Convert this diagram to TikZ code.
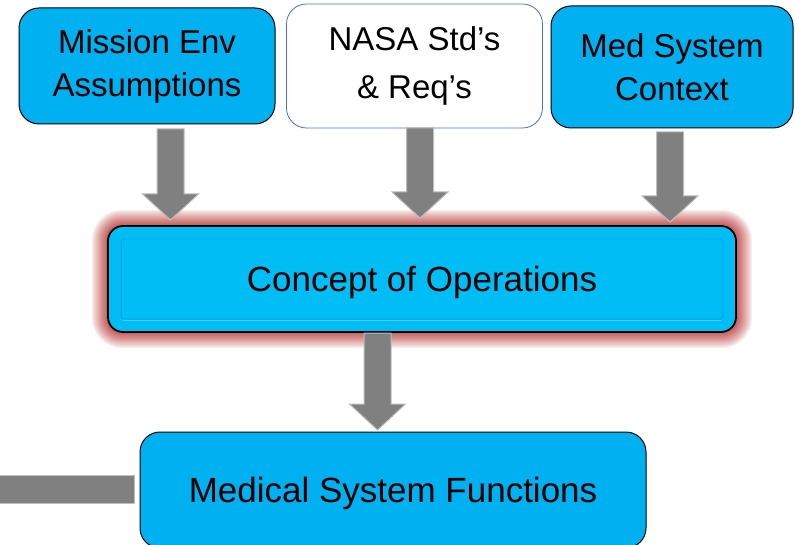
\documentclass[tikz,border=0pt]{standalone}
\usepackage{fontspec}
\setmainfont{Liberation Sans}
\usetikzlibrary{calc,backgrounds}

\definecolor{boxblue}{HTML}{00B0F0}
\definecolor{opsblue}{HTML}{00BEF5}
\definecolor{opsedge}{HTML}{0A9FD6}
\definecolor{nasaline}{HTML}{4472C4}
\definecolor{glowred}{HTML}{C0504D}
\definecolor{arrowgray}{HTML}{808080}
\definecolor{arrowedge}{HTML}{BDBDBD}

\tikzset{
  every node/.style={font=\fontsize{33}{43}\selectfont, align=center, inner sep=0pt},
  bigtext/.style={font=\fontsize{35}{42}\selectfont},
  widelines/.style={font=\fontsize{33}{48}\selectfont},
  bluebox/.style={rectangle, rounded corners=20pt, fill=boxblue, draw=black, line width=1pt},
  whitebox/.style={rectangle, rounded corners=20pt, fill=white, draw=nasaline, line width=0.8pt},
  opsbox/.style={rectangle, rounded corners=15pt, fill=opsblue, draw=black, line width=1.8pt},
  garrow/.style={fill=arrowgray, draw=arrowedge, line width=1pt},
}

% block arrow pointing down from #1 (top of shaft) to #2 (tip)
\newcommand{\blockdown}[2]{%
  \path[garrow] let \p1=#1, \p2=#2 in
    (\x1-13.5pt,\y1) -- (\x1+13.5pt,\y1) -- (\x1+13.5pt,\y2+26pt)
    -- (\x1+28pt,\y2+26pt) -- (\x1,\y2) -- (\x1-28pt,\y2+26pt)
    -- (\x1-13.5pt,\y2+26pt) -- cycle;}

\begin{document}
\begin{tikzpicture}[x=1pt,y=-1pt]
\useasboundingbox (0,0) rectangle (795,545);

% input boxes
\node[bluebox, minimum width=256pt, minimum height=116pt] (mission) at (147,66) {Mission Env\\Assumptions};
\node[whitebox, widelines, minimum width=256pt, minimum height=124pt] (nasa) at (414.5,66) {NASA Std’s\\\& Req’s};
\node[bluebox, minimum width=242pt, minimum height=122pt] (medctx) at (672,67) {Med System\\Context};

% concept of operations box with its red glow
\node[opsbox, bigtext, text height=26pt, text depth=0pt, minimum width=628pt, minimum height=106pt]
  (conops) at (422,279) {Concept of Operations};
\begin{scope}[on background layer]
  \foreach \i in {15,14,...,1}{
    \pgfmathsetmacro\amt{92*(1-\i/16)^0.8}
    \draw[line width={2*\i pt}, glowred!\amt!white, rounded corners=15pt]
      (conops.north west) rectangle (conops.south east);
  }
\end{scope}
\draw[opsedge, line width=0.8pt, rounded corners=3pt]
  ($(conops.north west)+(14,14)$) rectangle ($(conops.south east)+(-14,-14)$);
\draw[white!30!opsblue, line width=1.2pt]
  ($(conops.south west)+(16,-12.5)$) -- ($(conops.south east)+(-16,-12.5)$);

% functions box
\node[bluebox, bigtext, text height=24pt, text depth=0pt, minimum width=506pt, minimum height=116pt]
  (medfun) at (393,490) {Medical System Functions};

% arrows
\coordinate (a1s) at (170.5,129);  \coordinate (a1e) at (170.5,220);
\coordinate (a2s) at (420,128);    \coordinate (a2e) at (420,218);
\coordinate (a3s) at (670,132);    \coordinate (a3e) at (670,222);
\coordinate (a4s) at (377.5,333);  \coordinate (a4e) at (377.5,430);
\blockdown{(a1s)}{(a1e)}
\blockdown{(a2s)}{(a2e)}
\blockdown{(a3s)}{(a3e)}
\blockdown{(a4s)}{(a4e)}

% incoming bar on the left
\coordinate (stub) at (-2,488);
\path[garrow] ($(stub)+(0,-13)$) rectangle ($(medfun.west)+(-5,13)$);
\end{tikzpicture}
\end{document}
